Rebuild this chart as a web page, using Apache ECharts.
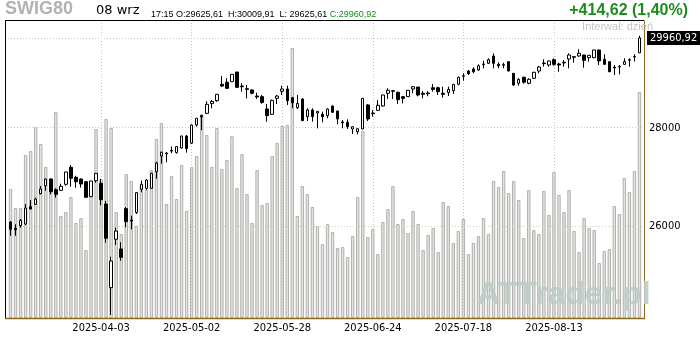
<!DOCTYPE html>
<html><head><meta charset="utf-8">
<script src="https://cdn.jsdelivr.net/npm/echarts@6/dist/echarts.min.js"></script>
<style>html,body{margin:0;padding:0;background:#fff}#c{width:700px;height:340px}</style>
</head><body><div id="c"></div>
<script>
const dates = [
'2025-03-10','2025-03-11','2025-03-12','2025-03-13','2025-03-14','2025-03-17','2025-03-18','2025-03-19','2025-03-20','2025-03-21',
'2025-03-24','2025-03-25','2025-03-26','2025-03-27','2025-03-28','2025-03-31','2025-04-01','2025-04-02','2025-04-03','2025-04-04',
'2025-04-07','2025-04-08','2025-04-09','2025-04-10','2025-04-11','2025-04-14','2025-04-15','2025-04-16','2025-04-17','2025-04-22',
'2025-04-23','2025-04-24','2025-04-25','2025-04-28','2025-04-29','2025-04-30','2025-05-02','2025-05-05','2025-05-06','2025-05-07',
'2025-05-08','2025-05-09','2025-05-12','2025-05-13','2025-05-14','2025-05-15','2025-05-16','2025-05-19','2025-05-20','2025-05-21',
'2025-05-22','2025-05-23','2025-05-26','2025-05-27','2025-05-28','2025-05-29','2025-05-30','2025-06-02','2025-06-03','2025-06-04',
'2025-06-05','2025-06-06','2025-06-09','2025-06-10','2025-06-11','2025-06-12','2025-06-13','2025-06-16','2025-06-17','2025-06-18',
'2025-06-20','2025-06-23','2025-06-24','2025-06-25','2025-06-26','2025-06-27','2025-06-30','2025-07-01','2025-07-02','2025-07-03',
'2025-07-04','2025-07-07','2025-07-08','2025-07-09','2025-07-10','2025-07-11','2025-07-14','2025-07-15','2025-07-16','2025-07-17',
'2025-07-18','2025-07-21','2025-07-22','2025-07-23','2025-07-24','2025-07-25','2025-07-28','2025-07-29','2025-07-30','2025-07-31',
'2025-08-01','2025-08-04','2025-08-05','2025-08-06','2025-08-07','2025-08-08','2025-08-11','2025-08-12','2025-08-13','2025-08-14',
'2025-08-18','2025-08-19','2025-08-20','2025-08-21','2025-08-22','2025-08-25','2025-08-26','2025-08-27','2025-08-28','2025-08-29',
'2025-09-01','2025-09-02','2025-09-03','2025-09-04','2025-09-05','2025-09-08'];

const openP = [26078,25954,26005,26039,26380,26428,26640,26802,26937,26721,
26709,26830,27176,26972,26937,26883,26581,26903,26850,26434,
24818,25741,25552,26342,26117,26262,26729,26749,26749,27086,
27409,27471,27510,27479,27575,27825,27676,28057,28255,28305,
28517,28576,28932,28976,28989,29200,28894,28835,28808,28677,
28663,28398,28284,28627,28779,28829,28641,28425,28612,28234,
28376,28312,28284,28255,28462,28355,28121,28114,27973,27916,
27973,28484,28312,28369,28462,28736,28792,28757,28663,28663,
28829,28872,28736,28743,28857,28857,28736,28750,28792,28932,
29106,29223,29267,29245,29363,29393,29556,29370,29363,29430,
29172,28954,29085,28954,29063,29223,29385,29356,29474,29378,
29400,29489,29526,29556,29578,29519,29519,29690,29482,29430,
29305,29311,29370,29460,29533,29625.61];
const highP = [26097,26033,26137,26434,26514,26560,26796,26945,26951,26749,
26843,27085,27223,27005,26951,26890,26900,27058,26937,26494,
25404,25966,25683,26374,26203,26673,26903,26937,27066,27291,
27498,27487,27604,27616,27830,27846,28072,28205,28270,28565,
28591,28720,29113,29063,29155,29205,28954,28916,28821,28750,
28699,28506,28598,28699,28901,28901,28645,28699,28627,28413,
28413,28352,28340,28413,28469,28360,28163,28178,28025,27987,
28632,28506,28376,28591,28704,28843,28808,28772,28677,28808,
28894,28876,28786,28786,28938,28879,28879,28879,28936,29098,
29172,29245,29305,29370,29451,29504,29615,29415,29407,29434,
29176,29063,29098,29063,29207,29334,29482,29450,29504,29407,
29467,29615,29556,29705,29582,29575,29695,29695,29593,29434,
29356,29356,29504,29504,29593,30009.91];
const lowP = [25809,25809,25966,26019,26329,26414,26628,26701,26628,26560,
26701,26802,26782,26762,26762,26562,26575,26863,26408,25674,
24312,25629,25328,25974,25935,26236,26669,26715,26742,26943,
27250,27278,27465,27457,27562,27479,27656,28021,27945,28290,
28413,28554,28872,28838,28985,28857,28772,28627,28714,28612,
28509,28127,28270,28506,28699,28484,28413,28398,28142,28142,
28127,27987,28114,28199,28319,28072,27987,27973,27867,27861,
27965,28142,28234,28355,28448,28612,28612,28506,28517,28656,
28736,28670,28627,28670,28772,28699,28641,28677,28721,28910,
29011,29135,29172,29223,29282,29378,29282,29282,29282,29216,
28901,28901,28945,28932,29048,29172,29318,29318,29340,29207,
29318,29282,29407,29541,29296,29430,29504,29356,29365,29200,
29135,29150,29356,29318,29430,29625.61];
const closeP = [25935,25927,26111,26355,26335,26534,26735,26937,26681,26628,
26790,27080,26951,26883,26836,26568,26897,27053,26520,25761,
25322,25901,25392,26084,26097,26661,26830,26917,27053,27264,
27487,27456,27525,27604,27825,27562,28057,28199,28227,28499,
28560,28714,28894,28843,29150,28866,28879,28821,28736,28656,
28539,28255,28584,28677,28829,28576,28531,28517,28148,28376,
28234,28348,28234,28398,28327,28184,28106,28021,28021,27979,
28627,28184,28298,28477,28699,28801,28779,28598,28627,28801,
28879,28699,28714,28728,28821,28772,28714,28821,28932,29085,
29120,29163,29207,29340,29378,29474,29393,29340,29349,29223,
28916,29041,28976,29041,29194,29311,29400,29445,29370,29356,
29415,29578,29541,29615,29460,29571,29690,29445,29370,29207,
29290,29326,29430,29474,29546.30,29960.92];
const volume = [129,110,110,163,167,191,174,151,135,206,
102,106,121,95,100,68,136,189,139,199,
190,106,84,144,137,92,133,128,148,179,
195,114,142,119,153,107,151,162,204,183,
151,190,149,158,182,130,164,124,95,148,
113,115,162,175,192,193,270,102,132,124,
111,92,74,94,86,70,71,61,82,121,
187,81,89,64,96,109,132,94,99,85,
107,94,68,83,90,66,116,112,75,87,
99,64,75,82,100,84,137,131,147,125,
137,118,80,128,88,84,127,103,146,123,
106,128,87,66,100,90,88,55,67,69,
112,104,140,126,147,226];

const yTicks = [26000, 28000];
const xTickDates = ['2025-04-03','2025-05-02','2025-05-28','2025-06-24','2025-07-18','2025-08-13'];
const symbol = 'SWIG80';
const dayLabel = '08 wrz';
const timeLabel = '17:15';
const prevClose = closeP[closeP.length - 2];

const n = dates.length;
const last = n - 1;
const fmt = v => v.toFixed(2).replace('.', ',');
const change = closeP[last] - prevClose;
const pct = change / prevClose * 100;

const candleData = dates.map((d, i) => [openP[i], closeP[i], lowP[i], highP[i]]);

const NARROW = "'Liberation Sans Narrow','DejaVu Sans Condensed','Liberation Sans',sans-serif";

const markData = [];
xTickDates.forEach(d => markData.push({
  xAxis: d, label: {show: false},
  lineStyle: {color: '#c4c4c4', type: [1, 2], width: 1}
}));
yTicks.forEach(v => markData.push({
  yAxis: v,
  label: {show: true, position: 'end', distance: 7, formatter: String(v), color: '#000', fontSize: 11, fontFamily: NARROW},
  lineStyle: {color: '#d6c9b4', type: [1, 2], width: 1}
}));
markData.push({
  yAxis: closeP[last],
  label: {show: true, position: 'end', distance: 5, formatter: fmt(closeP[last]), color: '#fff',
          backgroundColor: '#000', padding: [2, 3, 1, 3], fontSize: 11, fontFamily: NARROW},
  lineStyle: {color: '#d6c9b4', type: [1, 2], width: 1}
});

const chart = echarts.init(document.getElementById('c'), null, {renderer: 'canvas'});
chart.setOption({
  animation: false,
  backgroundColor: '#fff',
  grid: {left: 8, right: 58, top: 21, bottom: 22, containLabel: false},
  xAxis: {
    type: 'category', data: dates, boundaryGap: true,
    axisLine: {show: false}, axisTick: {show: false}, splitLine: {show: false},
    axisLabel: {
      interval: (idx, val) => xTickDates.indexOf(val) >= 0,
      color: '#000', fontSize: 11, fontFamily: NARROW, margin: 5
    }
  },
  yAxis: [
    {type: 'log', logBase: 10, min: 24257, max: 30346, show: false, splitLine: {show: false}},
    {type: 'value', min: 0, max: 297, show: false, splitLine: {show: false}}
  ],
  series: [
    {
      type: 'bar', yAxisIndex: 1, data: volume, barWidth: 3.4, silent: true, z: 1,
      itemStyle: {color: '#e3e3df', borderColor: '#b0b0ae', borderWidth: 1}
    },
    {
      type: 'candlestick', yAxisIndex: 0, data: candleData, barWidth: 3, z: 3, silent: true,
      itemStyle: {color: '#ffffff', color0: '#000000', borderColor: '#000000', borderColor0: '#000000',
                  borderColorDoji: '#000000', borderWidth: 1},
      markLine: {silent: true, symbol: ['none', 'none'], animation: false, z: 2, data: markData}
    }
  ],
  graphic: {
    z: 100,
    elements: [
    {type: 'line', shape: {x1: 5.5, y1: 20.5, x2: 5.5, y2: 318}, style: {stroke: '#000', lineWidth: 1}, z: 10},
    {type: 'line', shape: {x1: 5, y1: 20.5, x2: 644, y2: 20.5}, style: {stroke: '#000', lineWidth: 1}, z: 10},
    {type: 'line', shape: {x1: 644.5, y1: 20.5, x2: 644.5, y2: 318}, style: {stroke: '#8b6a1c', lineWidth: 1}, z: 10},
    {type: 'line', shape: {x1: 5, y1: 318.5, x2: 645, y2: 318.5}, style: {stroke: '#8b6a1c', lineWidth: 1.5}, z: 10},
    {type: 'text', left: 5, top: 0, z: 10,
     style: {text: symbol, font: "bold 18px 'Liberation Sans', Arial, sans-serif", fill: '#b2b2b2'}},
    {type: 'text', left: 96, top: 4, z: 10,
     style: {text: dayLabel, font: "13px 'DejaVu Sans', sans-serif", fill: '#000'}},
    {type: 'text', left: 151, top: 10, z: 10,
     style: {
       text: '{k|' + timeLabel + ' O:' + fmt(openP[last]) + '  H:' + fmt(highP[last]) + '  L: ' + fmt(lowP[last]) + ' }{g|C:' + fmt(closeP[last]) + '}',
       rich: {
         k: {font: "9px 'Liberation Sans', sans-serif", fill: '#000'},
         g: {font: "9px 'Liberation Sans', sans-serif", fill: '#1a8c1a'}
       }
     }},
    {type: 'text', right: 12, top: 3, z: 10,
     style: {text: (change >= 0 ? '+' : '') + fmt(change) + ' (' + pct.toFixed(2).replace('.', ',') + '%)',
             font: "bold 16px 'Liberation Sans', Arial, sans-serif", fill: '#1e8c1e'}},
    {type: 'text', right: 47, top: 21, z: 10,
     style: {text: 'Interwał: dzień', font: "11px 'Liberation Sans', sans-serif", fill: '#c6c6c6'}},
    {type: 'text', left: 477, top: 279, z: 100,
     style: {text: 'ATTrader.pl', font: "bold 32px 'Liberation Sans', Arial, sans-serif", fill: 'rgba(188,204,199,0.9)'}}
    ]
  }
});
</script>
</body></html>
